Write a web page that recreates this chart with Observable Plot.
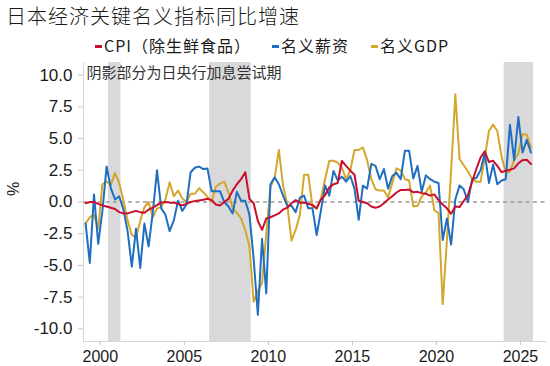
<!DOCTYPE html>
<html><head><meta charset="utf-8">
<script src="https://cdn.jsdelivr.net/npm/d3@7"></script>
<script src="https://cdn.jsdelivr.net/npm/@observablehq/plot@0.6"></script>
<style>
body{margin:0;background:#fff;}
#wrap{position:relative;width:550px;height:366px;overflow:hidden;background:#fff;}
#title{position:absolute;left:6px;top:4px;font-family:"Noto Sans CJK SC",sans-serif;font-size:20px;font-weight:300;line-height:24px;color:#1a1a1a;letter-spacing:1px;white-space:nowrap;}
.leg{position:absolute;top:35px;font-family:"Noto Sans CJK SC",sans-serif;font-size:16px;line-height:20px;color:#1a1a1a;white-space:nowrap;letter-spacing:1px;}
.sw{display:inline-block;width:7px;height:3px;vertical-align:middle;margin-right:2px;position:relative;top:-1px;}
#chart{position:absolute;left:0;top:55px;}
</style></head>
<body>
<div id="wrap">
  <div id="title"></div>
  <div id="legend"></div>
  <div id="chart"></div>
</div>
<script>
const titleText = "日本经济关键名义指标同比增速";
const noteText = "阴影部分为日央行加息尝试期";
const seriesNames = ["CPI（除生鲜食品）", "名义薪资", "名义GDP"];
const seriesColors = ["#c8102e", "#1f6ebf", "#d4a62a"];
const legendLeft = [95, 272, 371];

const firstYear = 1999; // quarterly data starting 1999 Q1

const cpi = [-0.1,0.0,0.0,-0.15,-0.27,-0.35,-0.45,-0.55,-0.8,-0.9,
-0.9,-0.8,-0.7,-0.8,-0.85,-0.6,-0.45,-0.25,-0.05,0.0,
-0.05,-0.05,-0.15,-0.27,-0.15,0.0,0.07,0.12,0.17,0.25,
0.15,-0.2,-0.27,0.0,0.25,0.9,1.4,1.8,2.35,0.25,
-0.1,-1.5,-2.2,-1.3,-1.2,-1.05,-0.9,-0.6,-0.45,-0.1,
0.15,-0.05,-0.05,-0.14,-0.25,-0.5,0.2,0.55,1.15,1.4,
1.5,3.25,2.85,2.47,2.15,0.1,0.0,-0.1,-0.35,-0.45,
-0.35,-0.1,0.2,0.45,0.75,0.95,0.95,0.98,0.77,0.8,
0.7,0.65,0.5,0.6,0.15,-0.2,-0.5,-0.93,-0.35,-0.4,
0.08,0.55,1.6,2.6,3.5,4.0,3.15,3.25,2.85,2.35,
2.47,2.55,2.65,3.05,3.3,3.33,3.0];

const wage = [-1.7,-4.8,0.6,-3.3,-0.7,2.8,1.1,0.2,0.45,-0.6,
-2.3,-5.1,-2.1,-5.2,-1.7,-3.5,-0.8,2.5,-0.5,-1.0,
-2.3,-1.45,0.1,-0.7,-0.2,2.35,2.7,2.8,2.6,2.65,
0.85,0.85,0.85,0.0,-0.35,-0.9,0.8,0.1,0.1,-1.0,
-4.5,-8.9,-2.9,-7.2,1.4,1.95,1.4,0.5,-0.3,-0.3,
-0.8,0.35,0.5,-0.5,-0.5,-2.6,-0.7,1.3,0.5,2.45,
1.7,2.0,1.6,2.05,1.05,-1.4,1.3,1.05,3.0,2.85,
1.8,2.6,1.05,2.05,2.3,1.8,4.05,4.05,1.85,2.85,
0.8,2.1,1.8,1.6,1.5,-3.0,-1.3,-3.35,0.2,1.3,
1.0,0.0,1.8,1.9,2.5,3.85,1.5,2.95,1.4,1.7,
1.8,6.1,3.3,6.7,3.9,4.9,3.9];

const gdp = [-1.7,-1.2,-1.0,-2.1,1.4,1.6,1.35,2.3,1.5,0.1,
-1.45,-2.6,-2.8,-1.5,-0.4,0.0,-1.2,-0.5,-0.4,0.2,
1.55,0.45,0.9,0.3,0.0,0.65,0.65,1.08,0.77,0.4,
0.0,1.2,1.45,1.6,0.75,-0.5,-0.85,-1.3,-2.2,-3.5,
-7.85,-7.0,-6.4,-2.5,1.2,1.9,4.1,1.3,-0.2,-3.05,
-2.2,-1.0,2.15,2.15,-0.35,-0.5,0.25,1.8,3.25,3.25,
3.1,2.7,1.8,2.5,4.1,4.1,4.3,3.3,1.8,1.0,
0.9,0.9,0.35,1.5,2.65,2.5,1.8,1.7,-0.35,-0.3,
0.45,0.77,1.3,-0.65,-0.85,-8.05,-3.0,2.5,8.5,3.4,
2.9,2.4,1.8,1.6,1.6,3.5,5.6,6.1,5.6,3.6,
2.3,2.4,3.3,3.8,5.35,5.3,4.3];

// BOJ rate-hike attempt periods (fractional years)
const shadeStart = [2000.49, 2006.5, 2024.03];
const shadeEnd = [2001.23, 2008.98, 2025.78];

const xTicks = [2000, 2005, 2010, 2015, 2020, 2025];
const yTicks = [-10, -7.5, -5, -2.5, 0, 2.5, 5, 7.5, 10];
const xDomain = [1999, 2026.55];
const yDomain = [-11, 11];

// title & legend
document.getElementById("title").textContent = titleText;
const legend = document.getElementById("legend");
seriesNames.forEach((n, i) => {
  const d = document.createElement("div");
  d.className = "leg";
  d.style.left = legendLeft[i] + "px";
  d.innerHTML = `<span class="sw" style="background:${seriesColors[i]}"></span>${n}`;
  legend.appendChild(d);
});

const toRows = (arr) => arr.map((v, i) => ({t: firstYear + (i + 0.5) / 4, v}));
const shades = shadeStart.map((a, i) => ({a, b: shadeEnd[i]}));
const seriesData = [cpi, wage, gdp];

const lineMarks = [2, 1, 0].map(k =>
  Plot.line(toRows(seriesData[k]), {x: "t", y: "v", stroke: seriesColors[k], strokeWidth: 2, strokeLinejoin: "round"})
);

const svg = Plot.plot({
  width: 550,
  height: 311,
  marginTop: 7,
  marginBottom: 25,
  marginLeft: 83,
  marginRight: 4,
  x: {domain: xDomain, label: null},
  y: {domain: yDomain, label: null},
  style: {fontFamily: '"Liberation Sans", Arial, sans-serif', fontSize: "16px", color: "#1a1a1a", background: "#fff", overflow: "visible"},
  marks: [
    Plot.rect(shades, {x1: "a", x2: "b", fill: "#d9d9db"}),
    Plot.ruleX([xDomain[0]], {stroke: "#d6d6d6"}),
    Plot.ruleY([yDomain[0]], {stroke: "#d6d6d6"}),
    Plot.axisY({ticks: yTicks, tickFormat: d => d.toFixed(1), tickSize: 5, tickPadding: 6, stroke: "#c8c8c8", fill: "#1a1a1a", fontSize: 17, label: null}),
    Plot.axisX({ticks: xTicks, tickFormat: d => String(d), tickSize: 4, tickPadding: 5, stroke: "#c8c8c8", fill: "#1a1a1a", fontSize: 16, label: null}),
    Plot.ruleY([0], {stroke: "#9a9a9a", strokeWidth: 1.5, strokeDasharray: "4,3.5"}),
    ...lineMarks,
    Plot.text([noteText], {text: d => d, frameAnchor: "top-left", dx: 3, dy: 5, fontFamily: '"Noto Sans CJK SC", sans-serif', fontSize: 15, fill: "#333"}),
    Plot.text(["%"], {text: d => d, frameAnchor: "left", dx: -70, dy: -6, rotate: -90, fontSize: 16, fill: "#1a1a1a"})
  ]
});
document.getElementById("chart").appendChild(svg);
</script>
</body></html>
